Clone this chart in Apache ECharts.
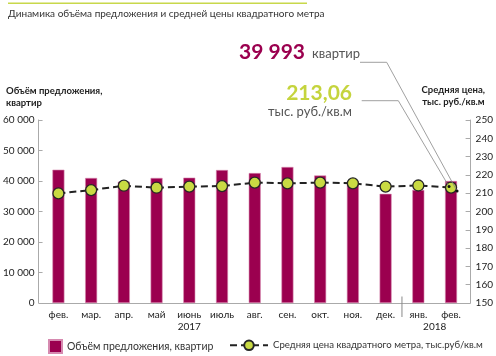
<!DOCTYPE html>
<html><head><meta charset="utf-8">
<script src="https://cdn.jsdelivr.net/npm/echarts@6/dist/echarts.min.js"></script>
<style>html,body{margin:0;padding:0;background:#fff}#c{width:496px;height:356px}</style>
</head><body><div id="c"></div>
<script>
const months = ['фев.','мар.','апр.','май','июнь','июль','авг.','сен.','окт.','ноя.','дек.','янв.','фев.'];
const years = ['2017','2018'];
const supply = [43700,41000,39800,41000,41100,43600,42600,44600,41800,40000,35800,37100,39993];
const price = [209.9,211.7,214.1,213.0,213.6,213.9,215.8,215.4,215.8,215.4,213.6,214.2,213.06];
const seriesNames = ['Объём предложения, квартир','Средняя цена квадратного метра, тыс.руб/кв.м'];
const title = 'Динамика объёма предложения и средней цены квадратного метра';
const leftAxisName = 'Объём предложения,\nквартир';
const rightAxisName = 'Средняя цена,\nтыс. руб./кв.м';
const lastSupplyText = '39 993';
const lastPriceText = '213,06';

const FONT = 'Lato';
const MAGENTA = '#9B004F';
const LIME = '#C9DA43';
const chart = echarts.init(document.getElementById('c'));
const fmtThousands = v => String(v).replace(/\B(?=(\d{3})+(?!\d))/g, ' ');

const option = {
  animation: false,
  textStyle: { fontFamily: FONT },
  grid: { left: 39.5, right: 28.5, top: 120, bottom: 53 },
  legend: [
    { data: [seriesNames[0]], left: 48, top: 339, padding: 0, itemWidth: 13, itemHeight: 13, icon: 'rect',
      textStyle: { fontFamily: FONT, fontSize: 10.5, color: '#333' } },
    { data: [seriesNames[1]], left: 229, top: 339.5, padding: 0, itemWidth: 38, itemHeight: 12, itemGap: 0,
      textStyle: { fontFamily: FONT, fontSize: 9.6, color: '#333' } }
  ],
  xAxis: {
    type: 'category', data: months,
    axisLine: { lineStyle: { color: '#aaa', width: 1 } },
    axisTick: { inside: true, length: 6, lineStyle: { color: '#aaa' },
      interval: (i) => !(i === 4 || i === 10 || i === 11 || i === 0) },
    axisLabel: { color: '#222', fontSize: 10, margin: 7, fontFamily: FONT }
  },
  yAxis: [
    { type: 'value', min: 0, max: 60000, interval: 10000, offset: 3.5,
      axisLine: { show: true, lineStyle: { color: '#aaa' } },
      axisTick: { show: true, inside: true, length: 4, lineStyle: { color: '#aaa' } },
      axisLabel: { color: '#222', fontSize: 10, margin: 4, formatter: fmtThousands, fontFamily: FONT },
      splitLine: { show: false } },
    { type: 'value', min: 150, max: 250, interval: 10, offset: 3.2, position: 'right',
      axisLine: { show: true, lineStyle: { color: '#aaa' } },
      axisTick: { show: true, inside: true, length: 5, lineStyle: { color: '#aaa' } },
      axisLabel: { color: '#222', fontSize: 10, margin: 5, fontFamily: FONT },
      splitLine: { show: false } }
  ],
  series: [
    { name: seriesNames[0], type: 'bar', data: supply, barWidth: 12,
      itemStyle: { color: MAGENTA, borderColor: '#d68ab0', borderWidth: 0.6 } },
    { name: seriesNames[1], type: 'line', yAxisIndex: 1, data: price, z: 5,
      symbol: 'circle', symbolSize: 11,
      itemStyle: { color: LIME, borderColor: '#262626', borderWidth: 1.3 },
      lineStyle: { color: '#222', width: 2, type: [7, 4] } }
  ]
};
chart.setOption(option);

const cx = i => chart.convertToPixel({ xAxisIndex: 0 }, i);
const last = price.length - 1;
const P = chart.convertToPixel({ seriesIndex: 1 }, [last, price[last]]);
const axisY = chart.convertToPixel({ yAxisIndex: 0 }, 0);
const e1 = [P[0] + 6, P[1] + 3.5];
const e2 = [P[0] - 2, P[1] - 1];

chart.setOption({
  graphic: [
    { type: 'line', shape: { x1: 8, y1: 3.3, x2: 307, y2: 3.3 }, style: { stroke: '#C8D84A', lineWidth: 1.6 } },
    { type: 'text', left: 8, top: 9, style: { text: title, font: '10px ' + FONT, fill: '#333' } },
    { type: 'text', x: 6, y: 85, style: { text: leftAxisName, font: 'bold 9.5px ' + FONT, fill: '#222', lineHeight: 12 } },
    { type: 'text', x: 453.3, y: 84, style: { text: rightAxisName, font: 'bold 9.5px ' + FONT, fill: '#222', lineHeight: 12, align: 'center' } },
    { type: 'text', x: 305, y: 52, style: { text: lastSupplyText, font: 'bold 21px ' + FONT, fill: MAGENTA, align: 'right', verticalAlign: 'middle' } },
    { type: 'text', x: 312, y: 53.5, style: { text: 'квартир', font: '13px ' + FONT, fill: '#555', verticalAlign: 'middle' } },
    { type: 'text', x: 352, y: 93, style: { text: lastPriceText, font: 'bold 21px ' + FONT, fill: '#C5D43D', align: 'right', verticalAlign: 'middle' } },
    { type: 'text', x: 352, y: 111.7, style: { text: 'тыс. руб./кв.м', font: '13px ' + FONT, fill: '#555', align: 'right', verticalAlign: 'middle' } },
    { type: 'polyline', z: 10, shape: { points: [[360, 62.3], [386.7, 62.3], e1] }, style: { stroke: '#888', lineWidth: 0.8, fill: null } },
    { type: 'polyline', z: 10, shape: { points: [[361.7, 100.7], [398.3, 100.7], e2] }, style: { stroke: '#888', lineWidth: 0.8, fill: null } },
    { type: 'circle', z: 11, shape: { cx: e1[0], cy: e1[1], r: 1.5 }, style: { fill: '#111' } },
    { type: 'circle', z: 11, shape: { cx: e2[0], cy: e2[1], r: 1.5 }, style: { fill: '#111' } },
    { type: 'line', z: 10, shape: { x1: (cx(10) + cx(11)) / 2, y1: axisY - 6.5, x2: (cx(10) + cx(11)) / 2, y2: axisY + 14 }, style: { stroke: '#888', lineWidth: 1 } },
    { type: 'text', x: cx(4), y: 327, style: { text: years[0], font: '10px ' + FONT, fill: '#222', align: 'center', verticalAlign: 'middle' } },
    { type: 'text', x: (cx(11) + cx(12)) / 2, y: 327, style: { text: years[1], font: '10px ' + FONT, fill: '#222', align: 'center', verticalAlign: 'middle' } }
  ]
});
</script></body></html>
